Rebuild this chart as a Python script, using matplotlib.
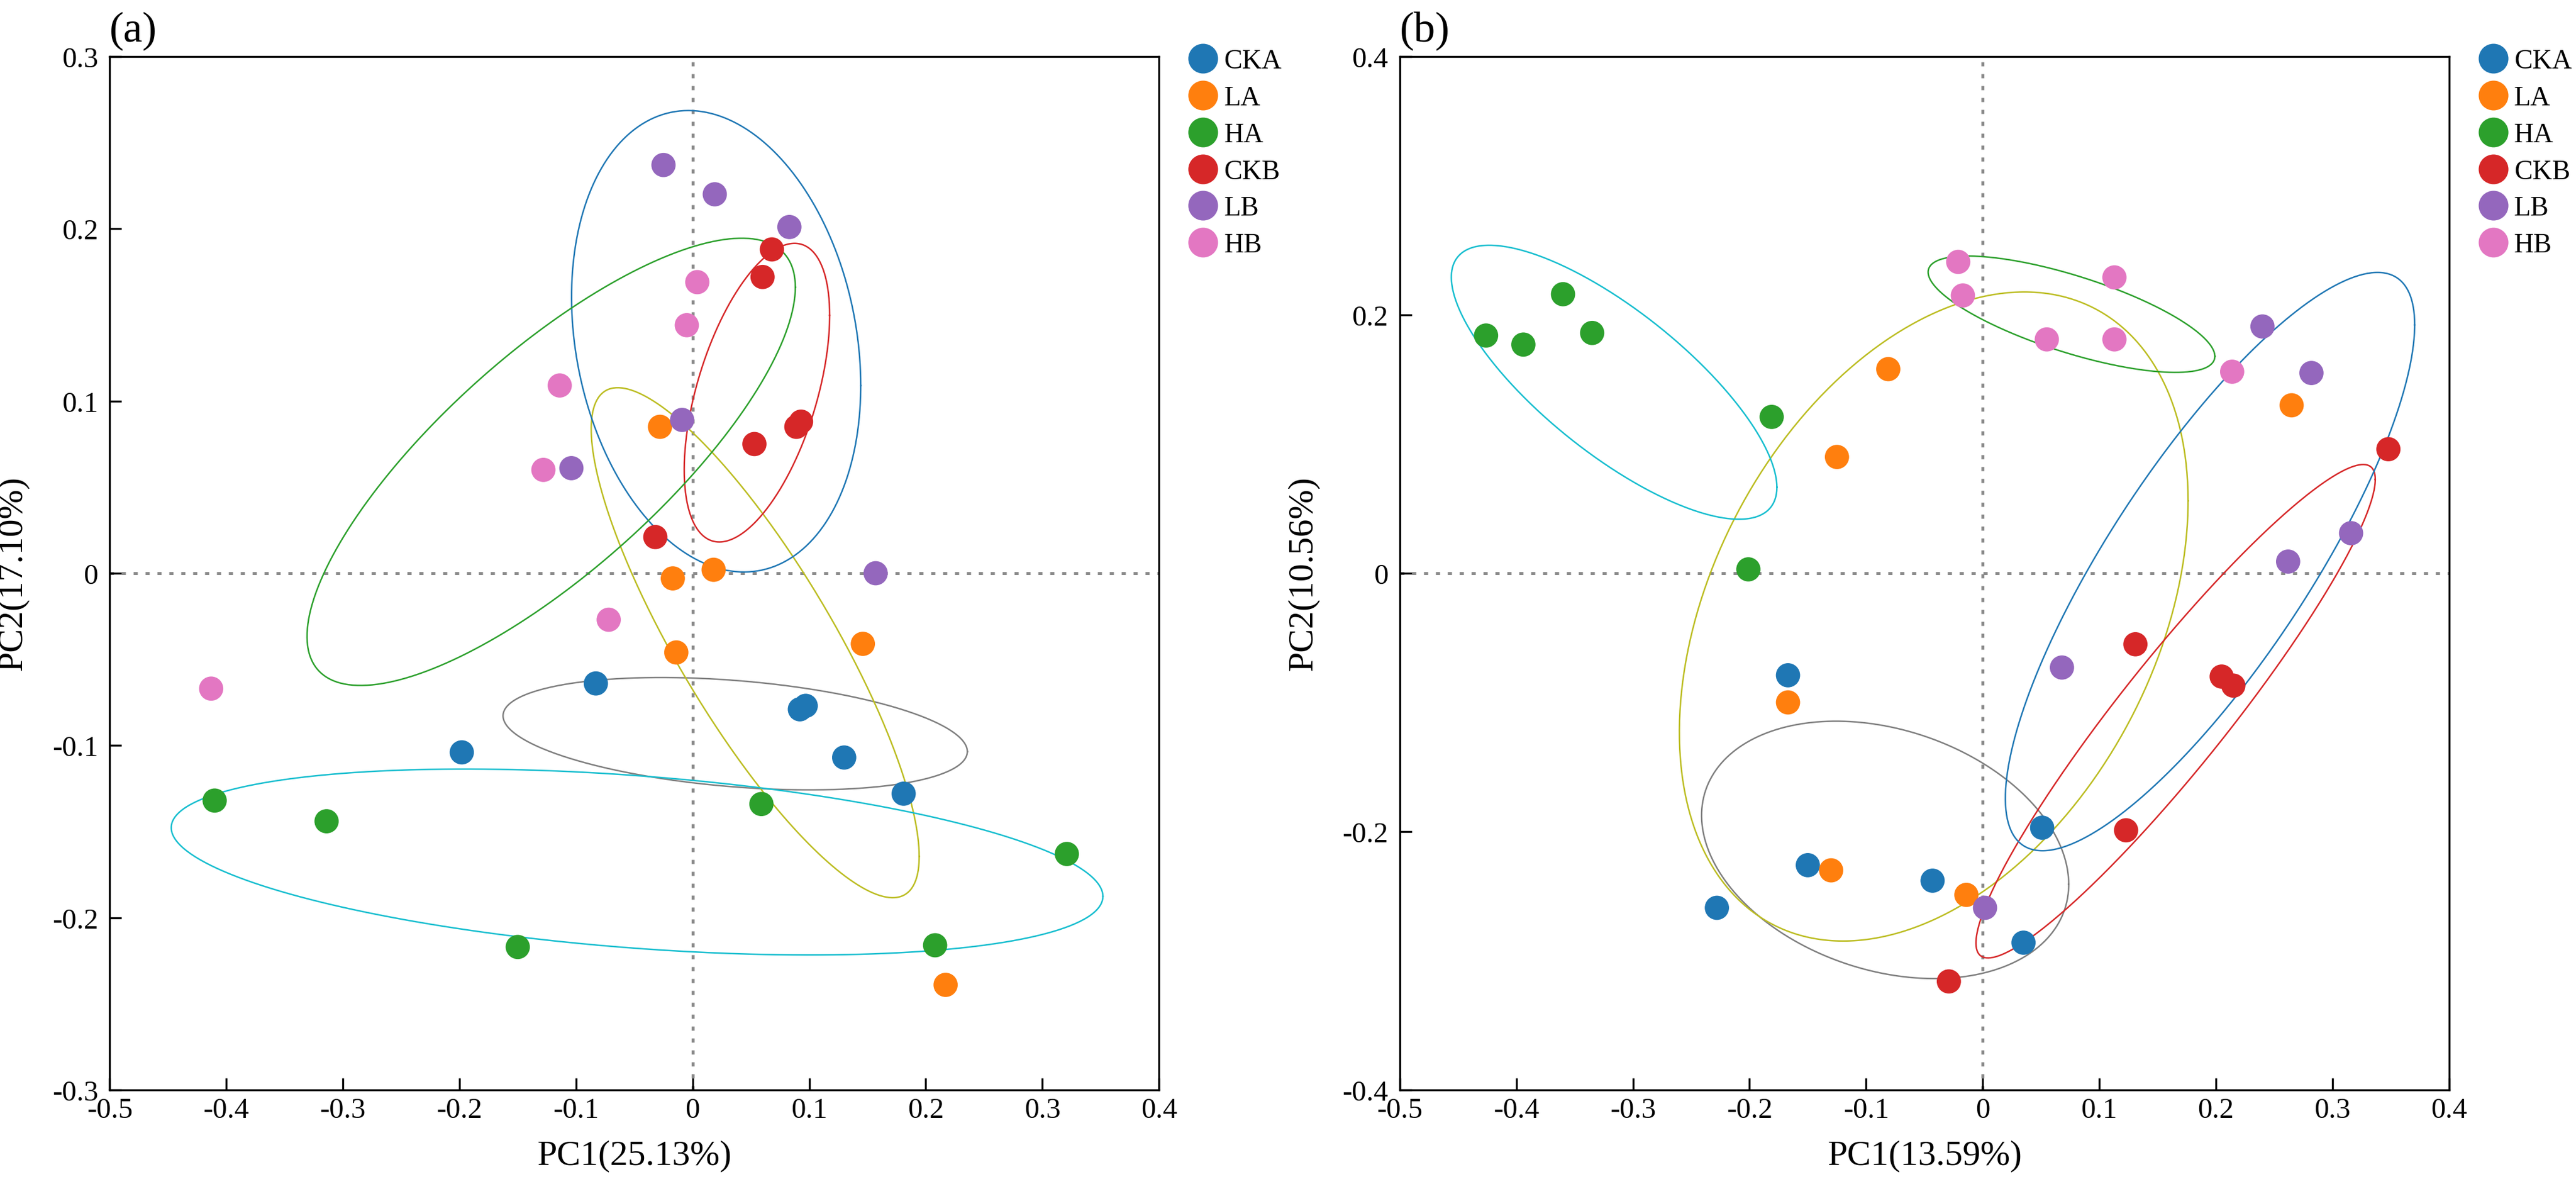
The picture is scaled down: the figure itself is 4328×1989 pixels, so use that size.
import numpy as np
import matplotlib
matplotlib.use("Agg")
import matplotlib.pyplot as plt
from matplotlib.lines import Line2D

plt.rcParams["font.family"] = ["Liberation Serif", "DejaVu Serif"]

groups = ["CKA", "LA", "HA", "CKB", "LB", "HB"]
point_colors = ["#1f77b4", "#ff7f0e", "#2ca02c", "#d62728", "#9467bd", "#e377c2"]
ellipse_colors = ["#7f7f7f", "#bcbd22", "#17becf", "#d62728", "#1f77b4", "#2ca02c"]

# panel (a) scores, one list per group (same order as groups)
pc1_a = [
    [-0.083, -0.198, 0.092, 0.097, 0.130, 0.181],
    [-0.028, -0.017, 0.018, -0.014, 0.146, 0.217],
    [-0.410, -0.314, -0.150, 0.059, 0.321, 0.208],
    [0.068, 0.060, 0.089, 0.093, 0.053, -0.032],
    [-0.025, 0.019, 0.083, -0.009, -0.104, 0.157],
    [0.004, -0.005, -0.114, -0.128, -0.072, -0.413],
]
pc2_a = [
    [-0.064, -0.104, -0.079, -0.077, -0.107, -0.128],
    [0.085, -0.003, 0.002, -0.046, -0.041, -0.239],
    [-0.132, -0.144, -0.217, -0.134, -0.163, -0.216],
    [0.188, 0.172, 0.085, 0.088, 0.075, 0.021],
    [0.237, 0.220, 0.201, 0.089, 0.061, 0.000],
    [0.169, 0.144, 0.109, 0.060, -0.027, -0.067],
]

# panel (b) scores
pc1_b = [
    [-0.167, -0.150, -0.043, -0.228, 0.051, 0.035],
    [-0.081, -0.125, 0.265, -0.167, -0.130, -0.014],
    [-0.426, -0.394, -0.360, -0.335, -0.181, -0.201],
    [0.348, 0.131, 0.205, 0.215, 0.123, -0.029],
    [0.240, 0.282, 0.316, 0.262, 0.068, 0.002],
    [-0.021, -0.017, 0.113, 0.055, 0.113, 0.214],
]
pc2_b = [
    [-0.079, -0.226, -0.238, -0.259, -0.197, -0.286],
    [0.158, 0.090, 0.130, -0.100, -0.230, -0.249],
    [0.184, 0.177, 0.216, 0.186, 0.121, 0.003],
    [0.096, -0.055, -0.080, -0.087, -0.199, -0.316],
    [0.191, 0.155, 0.031, 0.009, -0.073, -0.259],
    [0.241, 0.215, 0.229, 0.181, 0.181, 0.156],
]

panels = [
    ("(a)", pc1_a, pc2_a, "PC1(25.13%)", "PC2(17.10%)", (-0.3, 0.3), np.arange(-0.3, 0.31, 0.1)),
    ("(b)", pc1_b, pc2_b, "PC1(13.59%)", "PC2(10.56%)", (-0.4, 0.4), np.arange(-0.4, 0.41, 0.2)),
]

ELL_SCALE = 1.37


def tick_fmt(v):
    s = "%g" % round(v, 2)
    return "0" if s in ("0", "-0") else s


def group_ellipse(x, y, k=ELL_SCALE):
    # confidence-style ellipse around the group mean
    x = np.asarray(x)
    y = np.asarray(y)
    L = np.linalg.cholesky(np.cov(x, y))
    t = np.linspace(0, 2 * np.pi, 400)
    pts = k * (L @ np.vstack([np.cos(t), np.sin(t)]))
    return x.mean() + pts[0], y.mean() + pts[1]


fig = plt.figure(figsize=(21.64, 9.95), dpi=200)
lefts = [0.0426, 0.5434]

for (tag, xs, ys, xlab, ylab, ylim, yticks), left in zip(panels, lefts):
    ax = fig.add_axes([left, 0.0794, 0.4073, 0.8724])
    ax.set_xlim(-0.5, 0.4)
    ax.set_ylim(*ylim)

    ax.axhline(0, color="#8a8a8a", lw=1.8, ls=(0, (1.4, 2.6)), zorder=1)
    ax.axvline(0, color="#8a8a8a", lw=1.8, ls=(0, (1.4, 2.6)), zorder=1)

    for gx, gy, ec in zip(xs, ys, ellipse_colors):
        ex, ey = group_ellipse(gx, gy)
        ax.plot(ex, ey, color=ec, lw=0.9, zorder=2)

    for gx, gy, pc, name in zip(xs, ys, point_colors, groups):
        ax.scatter(gx, gy, s=215, color=pc, edgecolors="none", zorder=3, label=name)

    xticks = np.arange(-0.5, 0.41, 0.1)
    ax.set_xticks(xticks)
    ax.set_xticklabels([tick_fmt(v) for v in xticks])
    ax.set_yticks(yticks)
    ax.set_yticklabels([tick_fmt(v) for v in yticks])
    ax.tick_params(direction="in", length=7.2, width=1.2, labelsize=17.5,
                   top=False, right=False)
    ax.tick_params(axis="x", pad=4.5)
    ax.tick_params(axis="y", pad=7)
    for sp in ax.spines.values():
        sp.set_linewidth(1.2)

    ax.set_xlabel(xlab, fontsize=21.5)
    ax.set_ylabel(ylab, fontsize=21.5)
    ax.xaxis.set_label_coords(0.5, -0.048)
    ax.yaxis.set_label_coords(-0.077, 0.5)

    ax.text(0.0, 1.015, tag, transform=ax.transAxes, fontsize=26,
            ha="left", va="baseline")

    handles = [Line2D([], [], ls="none", marker="o", markersize=18,
                      markerfacecolor=c, markeredgecolor="none") for c in point_colors]
    ax.legend(handles, groups, loc="upper left", bbox_to_anchor=(1.029, 1.0075),
              frameon=False, fontsize=16.5, handlelength=1.0, handletextpad=0.27,
              borderpad=0, borderaxespad=0, labelspacing=0.42)

fig.savefig("out.png", dpi=200)
